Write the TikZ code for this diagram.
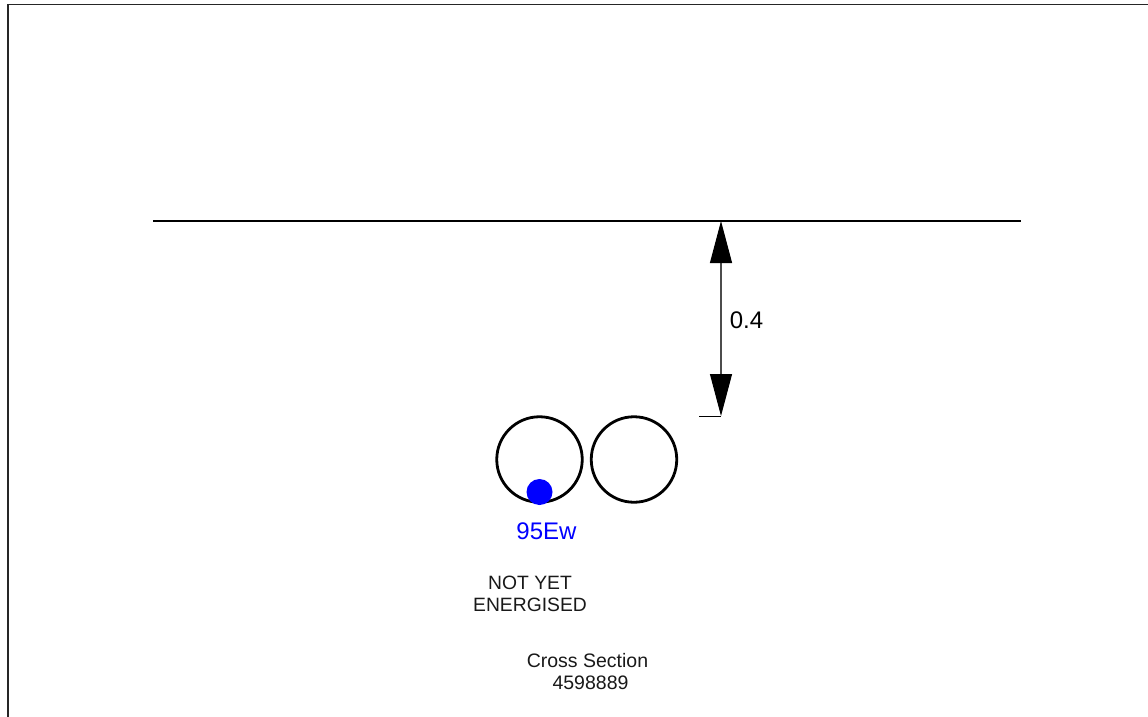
\documentclass[tikz,border=0pt]{standalone}
\usepackage{fontspec}
\setmainfont{Liberation Sans}
\usetikzlibrary{arrows.meta}
\definecolor{wireblue}{RGB}{0,0,255}
\tikzset{
  x=1pt,y=-1pt,
  heavy/.style={draw=black,line width=2.2pt},
  conduit/.style={circle,draw=black,line width=2.8pt,minimum size=85.5pt,inner sep=0pt},
  wire/.style={circle,fill=wireblue,minimum size=26pt,inner sep=0pt},
  dimline/.style={draw=black!70,line width=1.1pt,{Triangle[length=42pt,width=22pt,black]}-{Triangle[length=42pt,width=22pt,black]},shorten <=0pt,shorten >=0pt},
  tick/.style={draw=black,line width=0.8pt},
  smalltext/.style={font=\fontsize{19.3pt}{22.5pt}\selectfont,align=center,inner sep=0pt,text=black!90},
  cstext/.style={font=\fontsize{19.5pt}{22.5pt}\selectfont,align=center,inner sep=0pt,text=black!90},
  bigtext/.style={font=\fontsize{24pt}{28pt}\selectfont,inner sep=0pt}
}
\begin{document}
\begin{tikzpicture}
\useasboundingbox (0,0) rectangle (1148,717);
\fill[white] (0,0) rectangle (1148,717);
% frame
\draw[black!85,line width=1.6pt] (8,717) -- (8,4.7) -- (1148,4.7);
% ground line
\coordinate (gl) at (153,221);
\coordinate (gr) at (1021,221);
\draw[heavy] (gl) -- (gr);
% dimension
\coordinate (dtop) at (721,221);
\coordinate (dbot) at (721,416);
\coordinate (dtick) at (699,416);
\draw[dimline] (dtop) -- (dbot);
\draw[tick] (dtick) -- (dbot);
\node[bigtext,anchor=center] (dim) at (746.5,320) {0.4};
% conduits
\node[conduit] (c1) at (539.5,459.5) {};
\node[conduit] (c2) at (634,459.5) {};
\node[wire] (w) at (539.5,492) {};
\node[bigtext,text=wireblue] (lab) at (546.5,531) {95Ew};
\node[smalltext] (ny) at (530,594) {NOT YET\\ENERGISED};
\node[cstext] (cs) at (587.5,671.5) {Cross Section\\\hspace*{6pt}4598889};
\end{tikzpicture}
\end{document}
